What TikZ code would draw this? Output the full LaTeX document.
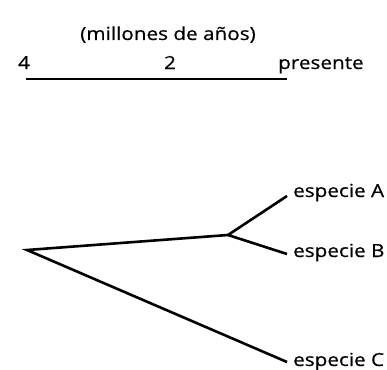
\documentclass[tikz,border=0pt]{standalone}
\usepackage{fontspec}
\setmainfont{Open Sans}[FakeStretch=1.15,FakeBold=0.6]
\begin{document}
\begin{tikzpicture}[x=1pt,y=-1pt,
  lbl/.style={font=\fontsize{18}{21}\selectfont, inner sep=0pt},
  branch/.style={line width=2.6pt, line cap=butt, line join=miter}]
\useasboundingbox (0,0) rectangle (387,369);
% time scale
\node[lbl, anchor=base] (title) at (168,40) {(millones de años)};
\node[lbl, anchor=base] (four) at (24,69) {4};
\node[lbl, anchor=base] (two) at (170,69) {2};
\node[lbl, anchor=base west] (pres) at (278,69) {presente};
\coordinate (s1) at (26,79);
\coordinate (s2) at (287,79);
\draw[branch] (s1) -- (s2);
% tree
\coordinate (root) at (27,250);
\coordinate (ab) at (228,235);
\coordinate (ea) at (287,196);
\coordinate (eb) at (287,254);
\coordinate (ec) at (287,362);
\node[lbl, anchor=base west] (spA) at (293,197) {especie A};
\node[lbl, anchor=base west] (spB) at (293,257) {especie B};
\node[lbl, anchor=base west] (spC) at (293,366) {especie C};
\draw[branch] (ea) -- (ab) -- (eb);
\draw[branch] (ab) -- (root) -- (ec);
\end{tikzpicture}
\end{document}
